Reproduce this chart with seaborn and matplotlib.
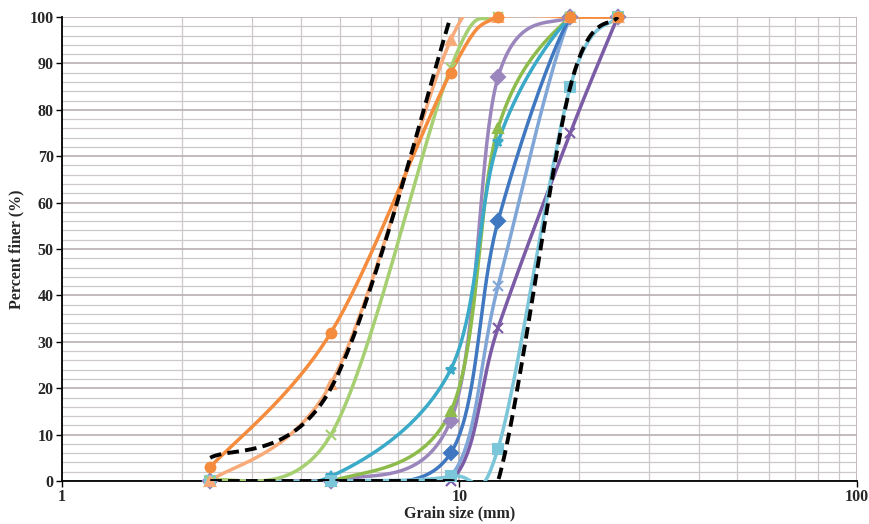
import matplotlib
matplotlib.use("Agg")
import matplotlib.pyplot as plt
import matplotlib.ticker as mticker
import numpy as np
import pandas as pd
import seaborn as sns

# sieve sizes (mm)
sieve = [2.36, 4.75, 9.5, 12.5, 19, 25]

# percent passing for each mix
mix_orange = [3, 32, 88, 100, 100, 100]
mix_salmon = [0, 21, 95, 100, 100, 100]
mix_lightgreen = [0, 10, 89, 100, 100, 100]
mix_lightpurple = [0, 0, 13, 87, 100, 100]
mix_green = [0, 0, 15, 76, 100, 100]
mix_teal = [0, 1, 24, 73, 100, 100]
mix_blue = [0, 0, 6, 56, 100, 100]
mix_lightblue = [0, 0, 1, 42, 100, 100]
mix_purple = [0, 0, 0, 33, 75, 100]
mix_cyan = [0, 0, 1, 7, 85, 100]

# specification envelope
env_lower_sieve = [2.36, 4.75, 9.5]
env_lower = [5, 20, 100]
env_upper = [0, 0, 0, 0, 85, 100]

series = [
    (mix_lightblue, "#7FA6D6", "x"),
    (mix_purple, "#7B5BA6", "x"),
    (mix_blue, "#3F78C0", "D"),
    (mix_lightpurple, "#9A86BC", "D"),
    (mix_green, "#8DBB4C", "^"),
    (mix_teal, "#3AAAC8", "*"),
    (mix_cyan, "#7CC6DA", "s"),
    (mix_lightgreen, "#A6CF72", "x"),
    (mix_salmon, "#F8AA78", "^"),
    (mix_orange, "#F58B3C", "o"),
]


def smooth(xs, ys, n=40):
    # Excel-like smoothed line: Catmull-Rom bezier in log-x space
    px = np.log10(np.asarray(xs, float))
    py = np.asarray(ys, float)
    P = np.column_stack([px, py])
    P = np.vstack([P[0], P, P[-1]])
    out = []
    t = np.linspace(0, 1, n)[:, None]
    for i in range(1, len(P) - 2):
        p0, p1, p2, p3 = P[i - 1], P[i], P[i + 1], P[i + 2]
        b1 = p1 + (p2 - p0) / 6
        b2 = p2 - (p3 - p1) / 6
        seg = ((1 - t) ** 3) * p1 + 3 * ((1 - t) ** 2) * t * b1 + 3 * (1 - t) * t ** 2 * b2 + t ** 3 * p2
        out.append(seg)
    out = np.vstack(out)
    return pd.DataFrame({"x": 10 ** out[:, 0], "y": out[:, 1]})


sns.set_style("white")
plt.rcParams["font.family"] = ["Liberation Serif", "DejaVu Serif"]

fig = plt.figure(figsize=(8.69, 5.24), dpi=100)
ax = fig.add_axes([0.0713, 0.082, 0.9149, 0.8856])

for vals, col, mk in series:
    d = smooth(sieve, vals)
    sns.lineplot(data=d, x="x", y="y", sort=False, estimator=None, color=col,
                 linewidth=2.5, ax=ax, zorder=3)
    ax.plot(sieve, vals, linestyle="none", marker=mk, color=col, markersize=7,
            markeredgewidth=1.5, clip_on=False, zorder=4)

for xs, vals in ((env_lower_sieve, env_lower), (sieve, env_upper)):
    d = smooth(xs, vals)
    sns.lineplot(data=d, x="x", y="y", sort=False, estimator=None, color="black",
                 linewidth=2.8, linestyle=(0, (3, 1.6)), ax=ax, zorder=5)

ax.set_xscale("log")
ax.set_xlim(1, 100)
ax.set_ylim(0, 100)
ax.xaxis.set_major_locator(mticker.FixedLocator([1, 10, 100]))
ax.xaxis.set_major_formatter(mticker.FixedFormatter(["1", "10", "100"]))
ax.xaxis.set_minor_locator(mticker.LogLocator(base=10, subs=np.arange(2, 10)))
ax.xaxis.set_minor_formatter(mticker.NullFormatter())
ax.yaxis.set_major_locator(mticker.MultipleLocator(10))
ax.yaxis.set_minor_locator(mticker.MultipleLocator(2))

ax.grid(which="major", color="#B9AFAF", linewidth=1.2, zorder=0)
ax.grid(which="minor", color="#CFC8C8", linewidth=0.9, zorder=0)
ax.set_axisbelow(True)

for s in ("top", "right"):
    ax.spines[s].set_visible(False)
for s in ("left", "bottom"):
    ax.spines[s].set_color("black")
    ax.spines[s].set_linewidth(1.3)

ax.tick_params(axis="both", which="major", direction="out", length=4, width=1,
               color="black", labelsize=11.5, pad=2, left=True, bottom=True)
ax.tick_params(axis="both", which="minor", length=0)
for lab in ax.get_xticklabels() + ax.get_yticklabels():
    lab.set_fontweight("bold")

ax.set_xlabel("Grain size (mm)", fontsize=11.5, fontweight="bold", labelpad=0)
ax.set_ylabel("Percent finer (%)", fontsize=11.5, fontweight="bold", labelpad=4)

fig.savefig("out.png", dpi=100)
